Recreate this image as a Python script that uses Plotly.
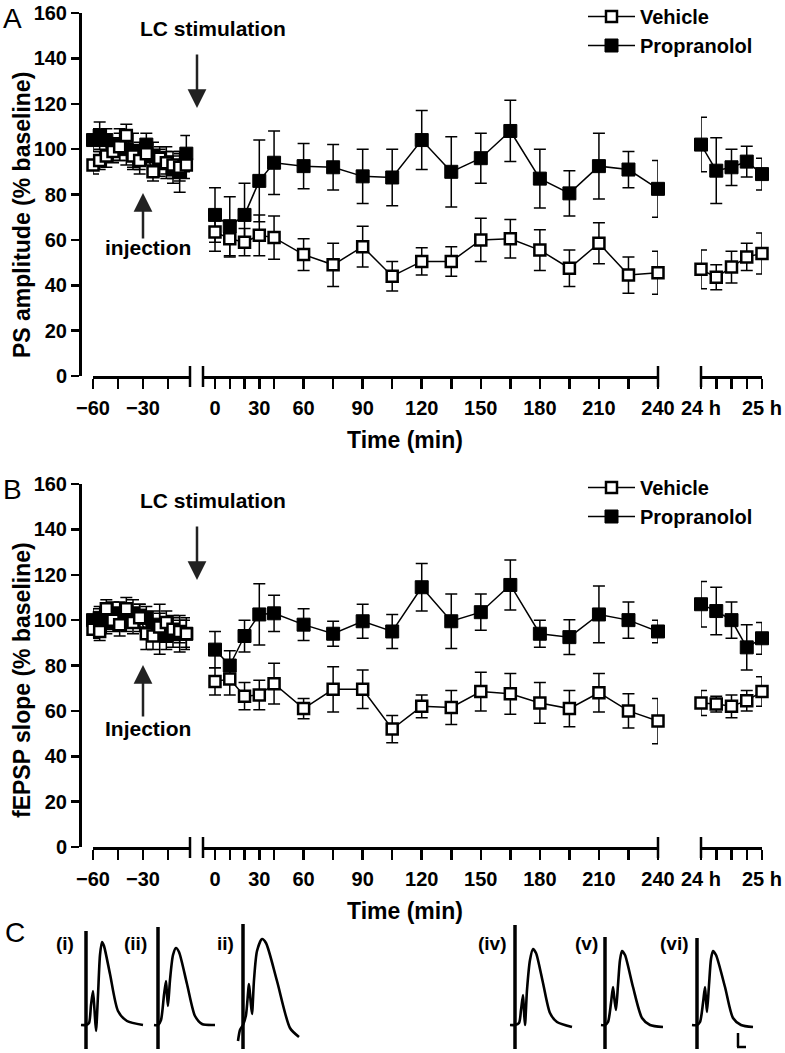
import numpy as np
import plotly.graph_objects as go

W, H = 785, 1053

# ---------------- data ----------------
base_times = [-60, -56, -52, -48, -44, -40, -36, -32, -28, -24, -20, -16, -12, -8, -4]
main_times = [0, 10, 20, 30, 40, 60, 75, 90, 105, 120, 135, 150, 165, 180, 195, 210, 225, 240]
day_times = [24, 24.25, 24.5, 24.75, 25]

# Panel A: PS amplitude (% baseline)
A_veh_base = [93, 95, 97, 99, 101, 106, 97, 95, 98, 90, 96, 94, 93, 92, 93]
A_veh_base_err = [4, 4, 5, 5, 6, 5, 5, 6, 5, 4, 5, 5, 6, 6, 6]
A_pro_base = [104, 106, 104, 100, 102, 100, 99, 97, 102, 97, 94, 94, 91, 90, 98]
A_pro_base_err = [5, 6, 5, 5, 7, 7, 8, 6, 5, 6, 6, 7, 6, 9, 8]
A_veh_main = [63.5, 60.5, 59, 62, 61, 53.5, 49, 57, 44, 50.5, 50.5, 60, 60.5, 55.5, 47.5, 58.5, 44.5, 45.5]
A_veh_main_err = [8.5, 8, 6, 9, 9.5, 7, 9.5, 9, 6.5, 6, 6.5, 9.5, 8.5, 9, 8, 9, 8, 9.5]
A_pro_main = [71, 66, 71, 86, 94, 92.5, 92, 88, 87.5, 104, 90, 96, 108, 87, 80.5, 92.5, 91, 82.5]
A_pro_main_err = [12, 13, 14, 18, 14, 10, 10, 12, 12.5, 13, 15.5, 11, 13.5, 13, 10, 14.5, 8, 12.5]
A_veh_day = [47, 43.5, 48, 52.5, 54]
A_veh_day_err = [8.5, 5.5, 7, 6, 9]
A_pro_day = [102, 90.5, 92, 94.5, 89]
A_pro_day_err = [12, 14.5, 8, 6.8, 7]

# Panel B: fEPSP slope (% baseline)
B_veh_base = [96, 95, 105, 100, 98, 105, 99, 101, 94, 93, 97, 99, 96, 95, 94]
B_veh_base_err = [4, 4, 4, 5, 5, 5, 5, 6, 7, 6, 6, 5, 5, 5, 6]
B_pro_base = [100, 101, 99, 102, 103, 101, 103, 102, 101, 98, 96, 93, 95, 94, 94]
B_pro_base_err = [5, 5, 5, 6, 5, 6, 6, 5, 5, 6, 11, 6, 7, 8, 7]
B_veh_main = [73, 74, 66.5, 67, 72, 61, 69.5, 69.5, 52, 62, 61.5, 68.5, 67.5, 63.5, 61, 68, 60, 55.5]
B_veh_main_err = [6, 7, 6, 6.5, 9, 4.5, 10, 8.5, 6, 5, 7.5, 8.5, 9, 9, 8, 8.5, 7.5, 10]
B_pro_main = [87, 80, 93, 102.5, 103, 98, 94, 99.5, 95, 114.5, 99.5, 103.5, 115.5, 94, 92.5, 102.5, 100, 95]
B_pro_main_err = [8, 6.5, 7, 13.5, 8, 7, 5.5, 7.5, 7.5, 10.5, 12, 8, 11, 6, 7.7, 12.5, 8, 5]
B_veh_day = [63.5, 63, 62, 64.5, 68.5]
B_veh_day_err = [5.5, 3.5, 5, 4.5, 6.5]
B_pro_day = [107, 104, 100, 88, 92]
B_pro_day_err = [10, 10.5, 8, 10, 7]

y_ticks = [0, 20, 40, 60, 80, 100, 120, 140, 160]
base_ticks = [-60, -45, -30, -15]
base_ticktext = ["\u221260", "", "\u221230", ""]
main_label_times = [0, 30, 60, 90, 120, 150, 180, 210, 240]
day_ticktext = ["24 h", "", "", "", "25 h"]

# Panel C: example traces (relative time, relative amplitude)
trace_labels = ["(i)", "(ii)", "ii)", "(iv)", "(v)", "(vi)"]
trace_dx = [
    [-5, 0, 3, 5, 7, 8.5, 10, 12, 14, 16, 18, 24, 32, 41, 57],
    [-4, 0, 3, 6, 8, 9, 10, 12, 15, 18, 21, 29, 37, 44, 57],
    [-5, -3, 0, 3, 6, 7.5, 9, 11, 14, 19, 23, 34, 47, 56],
    [-5, 0, 4, 6, 8, 9, 10, 12, 15, 18, 21, 28, 35, 42, 57],
    [-4, 0, 3, 6, 8, 9.5, 11, 13, 15, 17, 20, 28, 37, 45, 58],
    [-5, 0, 3, 6, 8, 9, 10, 12, 14, 16, 19, 28, 36, 44, 56],
]
trace_dy = [
    [0, 0, 2, 20, 34, 15, -6, 30, 70, 83, 79, 51, 14, 4, 0],
    [0, 0, 5, 30, 44, 30, 19, 45, 70, 77, 73, 41, 9, 1, 0],
    [-16, -5, 0, 10, 41, 25, 11, 45, 74, 86, 82, 44, -3, -12],
    [0, 0, 2, 15, 30, 14, 0, 35, 65, 76, 72, 42, 12, 3, -2],
    [0, 0, 3, 22, 38, 25, 15, 40, 65, 74, 70, 38, 7, 0, -2],
    [0, 0, 3, 22, 38, 25, 13, 40, 66, 74, 70, 38, 7, 0, -2],
]
artifact_top = [94, 98, 101, 100, 88, 87]
artifact_bottom = [-24, -24, -24, -24, -24, -24]

# ---------------- layout helpers (positions / styles) ----------------
def fx(p):
    return p / W


def fy(p):
    return 1 - p / H


MAIN_BREAK_T = [0, 40, 60, 240]
MAIN_BREAK_P = [0, 2, 3, 15]


def main_scale(t):
    return list(np.interp(t, MAIN_BREAK_T, MAIN_BREAK_P))


trace_x0 = [86, 158, 243, 515, 605, 697]
label_x = [65, 135, 225, 492, 586, 674]

FONT = "Liberation Sans, Arial, sans-serif"
BLACK = "black"

fig = go.Figure()

veh_marker = dict(symbol="square", size=11, color="white", line=dict(color=BLACK, width=2.5))
pro_marker = dict(symbol="square", size=13, color=BLACK, line=dict(color=BLACK, width=1))


def add_series(xs, ys, errs, xa, ya, marker, name, legend, show, rank):
    fig.add_trace(go.Scatter(
        x=xs, y=ys, mode="lines+markers", xaxis=xa, yaxis=ya,
        marker=marker, line=dict(color=BLACK, width=1.5),
        error_y=dict(type="data", array=errs, color=BLACK, thickness=1.5, width=6),
        name=name, legendgroup=name + legend, showlegend=show, legend=legend,
        legendrank=rank, cliponaxis=False,
    ))


panels = [
    ("y", ["x", "x2", "x3"], "legend",
     (A_pro_base, A_pro_base_err, A_pro_main, A_pro_main_err, A_pro_day, A_pro_day_err),
     (A_veh_base, A_veh_base_err, A_veh_main, A_veh_main_err, A_veh_day, A_veh_day_err)),
    ("y2", ["x4", "x5", "x6"], "legend2",
     (B_pro_base, B_pro_base_err, B_pro_main, B_pro_main_err, B_pro_day, B_pro_day_err),
     (B_veh_base, B_veh_base_err, B_veh_main, B_veh_main_err, B_veh_day, B_veh_day_err)),
]

for ya, xas, leg, pro, veh in panels:
    xs_list = [base_times, main_scale(main_times), day_times]
    for name, marker, data, rank in (("Propranolol", pro_marker, pro, 2), ("Vehicle", veh_marker, veh, 1)):
        for k in range(3):
            add_series(xs_list[k], data[2 * k], data[2 * k + 1], xas[k], ya, marker,
                       name, leg, k == 0, rank)

# Panel C traces
for i in range(len(trace_labels)):
    fig.add_trace(go.Scatter(
        x=[trace_x0[i] + d for d in trace_dx[i]], y=trace_dy[i],
        mode="lines", line=dict(color=BLACK, width=2.6, shape="spline", smoothing=0.7),
        xaxis="x7", yaxis="y3", showlegend=False, hoverinfo="skip",
    ))
    fig.add_trace(go.Scatter(
        x=[trace_x0[i], trace_x0[i]], y=[artifact_top[i], artifact_bottom[i]],
        mode="lines", line=dict(color=BLACK, width=3.5),
        xaxis="x7", yaxis="y3", showlegend=False, hoverinfo="skip",
    ))

# ---------------- axes ----------------
tickfont = dict(family=FONT, size=20, color=BLACK, weight="bold")
axis_common = dict(showline=True, linecolor=BLACK, linewidth=3, ticks="outside",
                   tickcolor=BLACK, tickwidth=2.5, showgrid=False, zeroline=False,
                   tickfont=tickfont, fixedrange=True, automargin=False)

panel_y = {"A": (376, 13), "B": (847, 484)}
base_range = [-60, -60 + (190 - 93) / (25 / 15)]
unit = (658 - 215) / 15
main_range = [(203 - 215) / unit, 15]

layout = dict(
    template="none",
    width=W, height=H, autosize=False, margin=dict(l=0, r=0, t=0, b=0, pad=0, autoexpand=False),
    paper_bgcolor="white", plot_bgcolor="rgba(0,0,0,0)",
    font=dict(family=FONT, color=BLACK),
)

for pi, (key, ya, ynum) in enumerate((("A", "y", ""), ("B", "y2", "2"))):
    ybot, ytop = panel_y[key]
    layout["yaxis" + ynum] = dict(axis_common, domain=[fy(ybot), fy(ytop)], range=[0, 160],
                                  anchor="free", position=fx(80), tickvals=y_ticks,
                                  ticklen=8)
    off = 3 * pi
    names = ["xaxis" + ("" if off == 0 else str(off + 1)), "xaxis" + str(off + 2), "xaxis" + str(off + 3)]
    layout[names[0]] = dict(axis_common, domain=[fx(93), fx(190)], range=base_range,
                            anchor=ya, tickvals=base_ticks, ticktext=base_ticktext,
                            ticklen=10, ticklabelstandoff=2)
    layout[names[1]] = dict(axis_common, domain=[fx(203), fx(658)], range=main_range,
                            anchor=ya, tickvals=main_scale(main_times),
                            ticktext=[str(t) if t in main_label_times else "" for t in main_times],
                            ticklen=10, ticklabelstandoff=2)
    layout[names[2]] = dict(axis_common, domain=[fx(701), fx(762)], range=[24, 25],
                            anchor=ya, tickvals=day_times, ticktext=day_ticktext,
                            ticklen=10, ticklabelstandoff=2)

layout["xaxis7"] = dict(domain=[0, 1], range=[0, W], visible=False, anchor="y3",
                        fixedrange=True, automargin=False)
layout["yaxis3"] = dict(domain=[0, fy(890)], range=[-28, 135], visible=False, anchor="x7",
                        fixedrange=True, automargin=False)

legend_common = dict(xanchor="left", yanchor="top", bgcolor="rgba(0,0,0,0)", borderwidth=0,
                     font=dict(family=FONT, size=20, color=BLACK, weight="bold"),
                     itemwidth=47, tracegroupgap=0)
layout["legend"] = dict(legend_common, x=fx(583), y=fy(-3))
layout["legend2"] = dict(legend_common, x=fx(583), y=fy(468))
fig.update_layout(**layout)

# ---------------- decorations ----------------
shapes = []
for pi, key in enumerate(("A", "B")):
    ybot = panel_y[key][0]
    off = 3 * pi
    xnames = ["x" if off == 0 else "x" + str(off + 1), "x" + str(off + 2), "x" + str(off + 3)]
    for xn, xpos in ((xnames[0], 1), (xnames[1], 0), (xnames[1], 1), (xnames[2], 0)):
        shapes.append(dict(type="line", xref=xn + " domain", yref="paper", x0=xpos, x1=xpos,
                           y0=fy(ybot - 10), y1=fy(ybot + 11), line=dict(color=BLACK, width=2.5)))
# scale bar
shapes.append(dict(type="line", xref="x7", yref="y3", x0=738, x1=738, y0=-8, y1=-22,
                   line=dict(color=BLACK, width=2.5)))
shapes.append(dict(type="line", xref="x7", yref="y3", x0=737, x1=746, y0=-22, y1=-22,
                   line=dict(color=BLACK, width=2.5)))

ann = []


def text(x, y, s, size=20, bold=True, angle=0, xanchor="center"):
    ann.append(dict(x=fx(x), y=fy(y), xref="paper", yref="paper", text=s, showarrow=False,
                    xanchor=xanchor, yanchor="middle", textangle=angle,
                    font=dict(family=FONT, size=size, color=BLACK,
                              weight="bold" if bold else "normal")))


def arrow(x, y_head, y_tail):
    ann.append(dict(x=fx(x), y=fy(y_head), xref="paper", yref="paper", text="",
                    showarrow=True, ax=0, ay=y_tail - y_head, axref="pixel", ayref="pixel",
                    arrowhead=2, arrowsize=1.5, arrowwidth=2.5, arrowcolor="#222"))


text(1, 18, "A", size=28, bold=False, xanchor="left")
text(1, 489, "B", size=28, bold=False, xanchor="left")
text(3, 932, "C", size=28, bold=False, xanchor="left")

text(213, 29, "LC stimulation", size=21)
text(213, 500, "LC stimulation", size=21)
arrow(197, 108, 53)
arrow(197, 580, 525)
text(148, 248, "injection", size=21)
text(148, 728, "Injection", size=21)
arrow(143, 193, 240)
arrow(143, 665, 718)

text(405, 440, "Time (min)", size=23)
text(405, 911, "Time (min)", size=23)
text(22, 215, "PS amplitude (% baseline)", size=23, angle=-90)
text(22, 680, "fEPSP slope (% baseline)", size=23, angle=-90)

for lab, lx in zip(trace_labels, label_x):
    text(lx, 943, lab, size=19)

fig.update_layout(shapes=shapes, annotations=ann)
fig.write_html(
    "out.html",
    config={"displayModeBar": False, "staticPlot": True},
    post_script="document.body.style.margin='0';document.body.style.padding='0';"
                "document.documentElement.style.overflow='hidden';",
)
